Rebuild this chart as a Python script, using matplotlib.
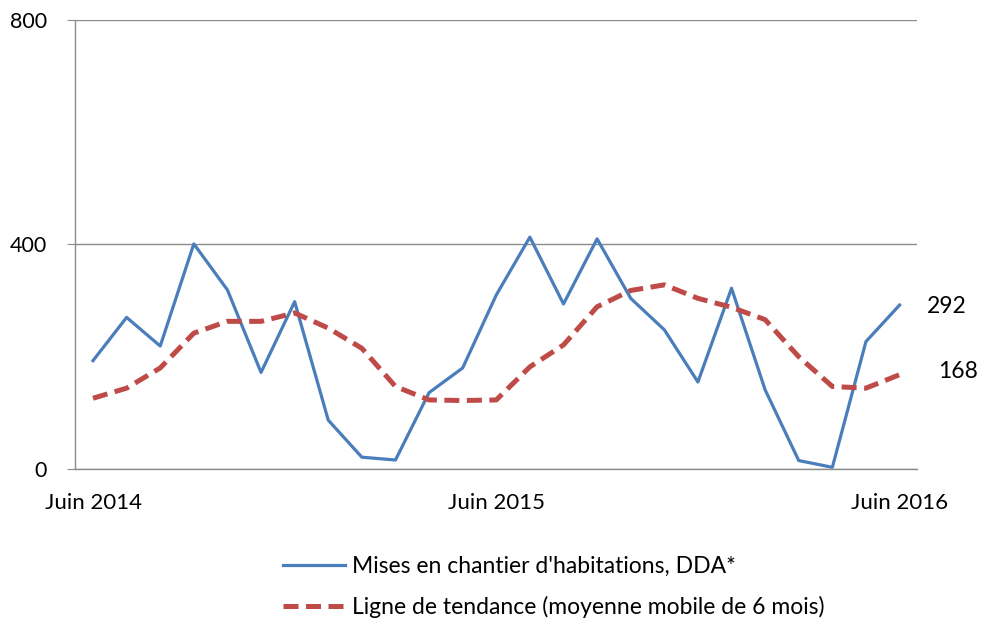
import matplotlib
matplotlib.use("Agg")
import matplotlib.pyplot as plt

# ── Données (lecture du graphique) ─────────────────────────────────────────────
mois = list(range(25))  # juin 2014 -> juin 2016
mises_en_chantier = [193, 270, 219, 401, 319, 172, 298, 87, 21, 16,
                     136, 180, 310, 413, 294, 410, 304, 248, 155, 322,
                     141, 15, 3, 227, 292]
tendance = [126, 144, 180, 242, 263, 263, 278, 251, 215, 147,
            123, 122, 123, 182, 221, 289, 318, 328, 304, 288,
            266, 200, 147, 144, 168]
tick_pos = [0, 12, 24]
tick_labels = ["Juin 2014", "Juin 2015", "Juin 2016"]
y_ticks = [0, 400, 800]

BLEU = "#4A7EBB"
ROUGE = "#BE4B48"
GRIS = "#8c8c8c"

plt.rcParams['font.family'] = ['Lato', 'DejaVu Sans']

fig = plt.figure(figsize=(9.85, 6.22), dpi=100)
ax = fig.add_axes([0.076, 0.246, 0.855, 0.722])

ax.plot(mois, mises_en_chantier, color=BLEU, lw=2.3,
        label="Mises en chantier d'habitations, DDA*")
ax.plot(mois, tendance, color=ROUGE, lw=3.6, dashes=(3.0, 1.5),
        label="Ligne de tendance (moyenne mobile de 6 mois)")

ax.set_xlim(-0.54, 24.52)
ax.set_ylim(0, 800)
ax.set_yticks(y_ticks)
ax.set_yticklabels([str(v) for v in y_ticks], fontsize=15.5)
ax.set_xticks(tick_pos)
ax.set_xticklabels(tick_labels, fontsize=16)
ax.tick_params(axis="x", length=0, pad=17)
ax.tick_params(axis="y", length=6, color=GRIS, pad=14)
ax.grid(axis="y", color=GRIS, lw=1)
ax.set_axisbelow(True)
for side in ["top", "right"]:
    ax.spines[side].set_visible(False)
for side in ["left", "bottom"]:
    ax.spines[side].set_color(GRIS)
    ax.spines[side].set_linewidth(1)

# valeurs finales
ax.annotate(f"{mises_en_chantier[-1]}", xy=(mois[-1], mises_en_chantier[-1]),
            xytext=(20, -1), textcoords="offset points",
            ha="left", va="center", fontsize=16.5)
ax.annotate(f"{tendance[-1]}", xy=(mois[-1], tendance[-1]),
            xytext=(28, 2), textcoords="offset points",
            ha="left", va="center", fontsize=16.5)

fig.legend(loc="lower center", bbox_to_anchor=(0.562, -0.027), ncol=1,
           frameon=False, fontsize=16.5, handlelength=2.7, handletextpad=0.3,
           labelspacing=0.85)

plt.savefig("out.png", dpi=100)
